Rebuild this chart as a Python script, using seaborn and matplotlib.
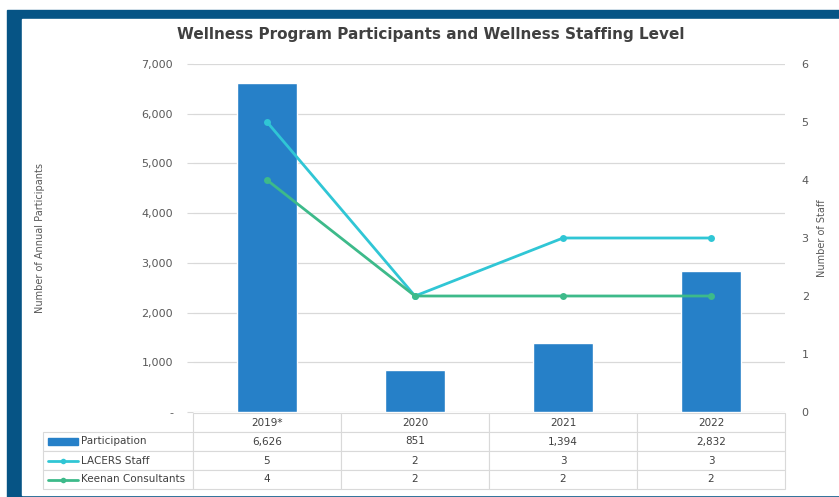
import matplotlib
matplotlib.use("Agg")
import matplotlib.pyplot as plt
import seaborn as sns
import numpy as np
import pandas as pd
from matplotlib.patches import Rectangle
from matplotlib.lines import Line2D
from matplotlib.table import Table
from matplotlib.ticker import FuncFormatter, MultipleLocator

# ---- data ----
years = ["2019*", "2020", "2021", "2022"]
participation = [6626, 851, 1394, 2832]
lacers_staff = [5, 2, 3, 3]
keenan_consultants = [4, 2, 2, 2]
series_names = ["Participation", "LACERS Staff", "Keenan Consultants"]
title = "Wellness Program Participants and Wellness Staffing Level"

# ---- style ----
sns.set_style("white")
plt.rcParams["font.family"] = ["DejaVu Sans"]
W, H = 839, 497
BLUE_FRAME = "#065485"
BAR = "#2680c8"
CYAN = "#30c6d5"
GREEN = "#3dba8a"
GRID = "#d9d9d9"
TXT = "#595959"

fig = plt.figure(figsize=(W / 100, H / 100), dpi=100)
fig.patch.set_facecolor("white")

# frame
fig.patches.append(Rectangle((7 / W, 0), (W - 7) / W, (H - 10) / H,
                             transform=fig.transFigure, color=BLUE_FRAME, zorder=-10))
fig.patches.append(Rectangle((22 / W, 2 / H), (W - 22) / W, (495 - 19) / H,
                             transform=fig.transFigure, color="white", zorder=-9))

# main axes
ax = fig.add_axes([193 / W, 1 - 412 / H, 592 / W, 348 / H])
ax.patch.set_alpha(0)
df = pd.DataFrame({"year": years, "participation": participation})
sns.barplot(data=df, x="year", y="participation", color=BAR, saturation=1,
            width=0.4, ax=ax, zorder=2)
ax.set_xlim(-0.5, 3.5)
ax.set_ylim(0, 7000)
ax.yaxis.set_major_locator(MultipleLocator(1000))
ax.yaxis.set_major_formatter(FuncFormatter(lambda v, p: "-" if v == 0 else f"{v:,.0f}"))
ax.set_xticks([])
ax.set_xlabel("")
ax.grid(axis="y", color=GRID, lw=0.9)
ax.set_axisbelow(True)
ax.tick_params(axis="y", length=4.3, color=GRID, pad=10, labelsize=8, labelcolor=TXT)
for s in ax.spines.values():
    s.set_visible(False)
ax.set_ylabel("Number of Annual Participants", fontsize=7, color=TXT)
ax.yaxis.set_label_coords(-0.25, 0.5)

ax2 = ax.twinx()
x_pos = np.arange(len(years))
sns.lineplot(x=x_pos, y=lacers_staff, color=CYAN, lw=2, marker="o", markersize=5,
             markeredgewidth=0, ax=ax2, zorder=3)
sns.lineplot(x=x_pos, y=keenan_consultants, color=GREEN, lw=2, marker="o", markersize=5,
             markeredgewidth=0, ax=ax2, zorder=4)
ax2.set_ylim(0, 6)
ax2.set_xlim(-0.5, 3.5)
ax2.yaxis.set_major_locator(MultipleLocator(1))
ax2.tick_params(axis="y", length=0, pad=12, labelsize=8, labelcolor=TXT)
for s in ax2.spines.values():
    s.set_visible(False)
ax2.set_ylabel("Number of Staff", fontsize=7, color=TXT, rotation=90)
ax2.yaxis.set_label_coords(1.054, 0.5)

# title
fig.text(431 / W, 1 - 35 / H, title, ha="center", va="center",
         fontsize=11, fontweight="bold", color="#404040")

# data table (built cell by cell; bbox covers the data columns)
TW = 592
tax = fig.add_axes([193 / W, 1 - 489 / H, TW / W, 76 / H])
tax.axis("off")
rows_text = [[f"{v:,}" for v in participation],
             [str(v) for v in lacers_staff],
             [str(v) for v in keenan_consultants]]
tbl = Table(tax, bbox=[0, 0, 1, 1])
cw, ch = 148 / TW, 0.25
for j, y in enumerate(years):
    tbl.add_cell(0, j, cw, ch, text=y, loc="center", edgecolor=GRID)
for i, (name, vals) in enumerate(zip(series_names, rows_text), start=1):
    c = tbl.add_cell(i, -1, 150 / TW, ch, text=name, loc="left", edgecolor=GRID)
    c.PAD = 38 / 150
    for j, v in enumerate(vals):
        tbl.add_cell(i, j, cw, ch, text=v, loc="center", edgecolor=GRID)
tbl.auto_set_font_size(False)
for (r, c), cell in tbl.get_celld().items():
    cell.set_linewidth(0.8)
    cell.get_text().set_fontsize(7.5)
    cell.get_text().set_color("#404040")
tax.add_table(tbl)

# legend swatches in row label cells
x0, x1 = (48 - 193) / TW, (78 - 193) / TW
rows_y = [0.625, 0.375, 0.125]
tax.add_patch(Rectangle((x0, rows_y[0] - 0.045), x1 - x0, 0.09,
                        color=BAR, transform=tax.transAxes, clip_on=False, zorder=5))
for yy, col in zip(rows_y[1:], [CYAN, GREEN]):
    tax.add_line(Line2D([x0, x1], [yy, yy], color=col, lw=2, transform=tax.transAxes,
                        clip_on=False, zorder=5))
    tax.add_line(Line2D([(x0 + x1) / 2], [yy], color=col, marker="o", markersize=4,
                        markeredgewidth=0, transform=tax.transAxes, clip_on=False, zorder=6))

fig.savefig("out.png", dpi=100)
